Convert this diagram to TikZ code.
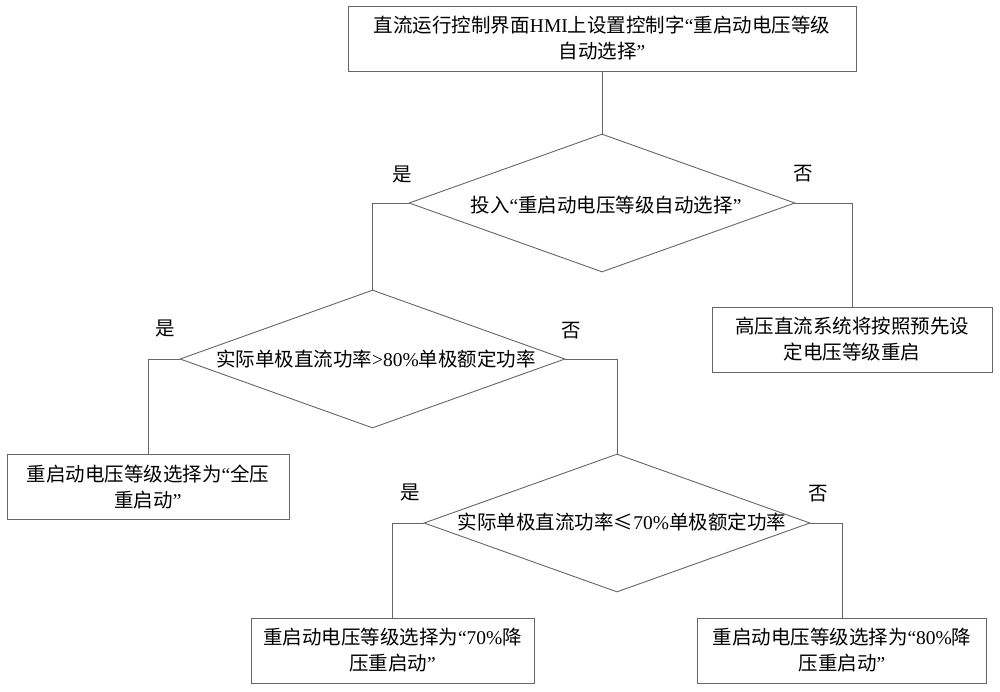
\documentclass[tikz,border=0pt]{standalone}
\usepackage{fontspec}
\setmainfont{Liberation Serif}
\newfontfamily\cjk{Noto Sans CJK SC}
\newcommand\lt[1]{{\rmfamily #1}}
\usetikzlibrary{shapes.geometric}
\begin{document}
\begin{tikzpicture}[x=1pt,y=-1pt,
  line/.style={draw=black!60, line width=0.9pt},
  txt/.style={font=\cjk\fontsize{19.5}{26}\selectfont, inner sep=0pt, text=black},
  box/.style={line, rectangle, inner sep=0pt, minimum height=65pt, align=center, txt},
  dia/.style={line, diamond, inner sep=0pt, minimum width=386pt, minimum height=138pt},
]
\useasboundingbox[fill=white] (0,0) rectangle (1000,691);

% boxes
\node[box, minimum width=508pt] (top) at (602,38.5)
  {直流运行控制界面\lt{HMI}上设置控制字\lt{“}重启动电压等级\\自动选择\lt{”}};
\node[box, minimum width=280pt] (b2) at (852,339.5)
  {高压直流系统将按照预先设\\定电压等级重启};
\node[box, minimum width=282pt] (b3) at (148,486.5)
  {重启动电压等级选择为\lt{“}全压\\重启动\lt{”}};
\node[box, minimum width=283pt] (b4) at (392.5,650.5)
  {重启动电压等级选择为\lt{“70\%}降\\压重启动\lt{”}};
\node[box, minimum width=289pt] (b5) at (842,650.5)
  {重启动电压等级选择为\lt{“80\%}降\\压重启动\lt{”}};

% decisions
\node[dia] (d1) at (602,203) {};
\node[txt] (t1) at (606,205) {投入\lt{“}重启动电压等级自动选择\lt{”}};
\node[dia, minimum width=385pt] (d2) at (372.5,359) {};
\node[txt] (t2) at (376,359) {实际单极直流功率\lt{>80\%}单极额定功率};
\node[dia] (d3) at (617,523) {};
\node[txt] (t3) at (622,522) {实际单极直流功率≤\lt{70\%}单极额定功率};

% yes / no labels
\node[txt] (y1) at (402,174) {是};
\node[txt] (n1) at (803,174) {否};
\node[txt] (y2) at (165,328) {是};
\node[txt] (n2) at (571,331) {否};
\node[txt] (y3) at (410,492) {是};
\node[txt] (n3) at (818,494) {否};

% connectors
\draw[line] (top.south) -- (d1.north);
\draw[line] (d1.west) -| (d2.north);
\draw[line] (d1.east) -| (b2.north);
\draw[line] (d2.west) -| (b3.north);
\draw[line] (d2.east) -| (d3.north);
\draw[line] (d3.west) -| (b4.north);
\draw[line] (d3.east) -| (b5.north);
\end{tikzpicture}
\end{document}
